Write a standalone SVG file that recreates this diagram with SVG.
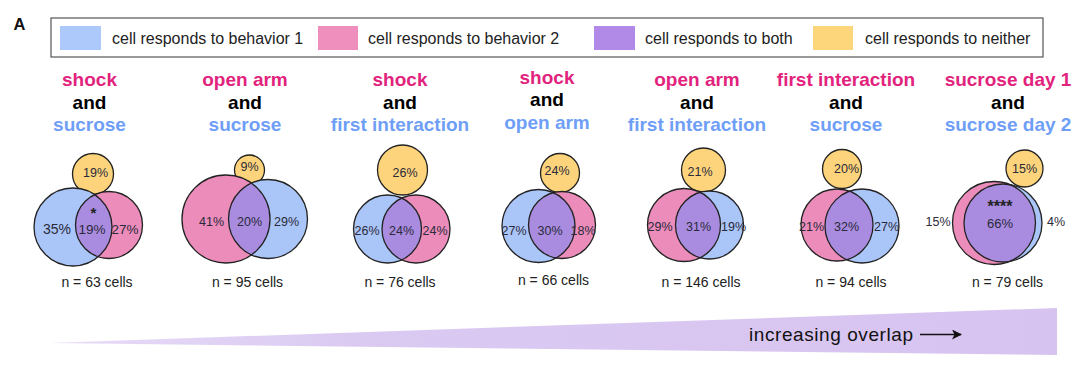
<svg xmlns="http://www.w3.org/2000/svg" width="1080" height="368" viewBox="0 0 1080 368">
<style>
text{font-family:"Liberation Sans",Arial,sans-serif;}
.tp{font-size:19px;font-weight:bold;fill:#e2237d;text-anchor:middle}
.ta{font-size:19px;font-weight:bold;fill:#000;text-anchor:middle}
.tb{font-size:19px;font-weight:bold;fill:#6f9ef7;text-anchor:middle}
.lg{font-size:16px;fill:#222}
.pc{font-size:12.5px;fill:#2a2a3a;text-anchor:middle}
.n{font-size:14px;fill:#222;text-anchor:middle}
.star{font-size:16px;font-weight:bold;fill:#222;text-anchor:middle}
.fb{fill:#aac5f8}
.fp{fill:#eb8cba}
.fo{fill:#a98ce0}
.fy{fill:#fdd47b;stroke:#222;stroke-width:1.3}
.ol{fill:none;stroke:#222;stroke-width:1.3}
</style>
<defs>
<clipPath id="c1"><circle cx="73" cy="227" r="39"/></clipPath>
<clipPath id="c2"><circle cx="226" cy="219" r="44"/></clipPath>
<clipPath id="c3"><circle cx="387.5" cy="229" r="34"/></clipPath>
<clipPath id="c4"><circle cx="538.5" cy="226" r="36.5"/></clipPath>
<clipPath id="c5"><circle cx="684" cy="225" r="36.5"/></clipPath>
<clipPath id="c6"><circle cx="837" cy="225" r="36"/></clipPath>
<clipPath id="c7"><circle cx="994" cy="223" r="41.5"/></clipPath>
<linearGradient id="wg" x1="0" y1="0" x2="1" y2="0">
<stop offset="0" stop-color="#e8dcf7"/>
<stop offset="0.3" stop-color="#dacaf2"/>
<stop offset="1" stop-color="#d7c3f0"/>
</linearGradient>
<marker id="ah" viewBox="0 0 10 10" refX="9" refY="5" markerWidth="10" markerHeight="10" markerUnits="userSpaceOnUse" orient="auto">
<path d="M0,0 L10,5 L0,10 L2.5,5 Z" fill="#111"/>
</marker>
</defs>
<rect width="1080" height="368" fill="#fff"/>
<text x="13.5" y="30" style="font-size:16.5px;font-weight:bold;fill:#111">A</text>
<g id="legend">
<rect x="51" y="18" width="992" height="39" fill="#fff" stroke="#555" stroke-width="1.2"/>
<rect x="60" y="26" width="41" height="24" fill="#adc8fb"/>
<text class="lg" x="112" y="44">cell responds to behavior 1</text>
<rect x="318" y="26" width="40" height="24" fill="#ee8fbd"/>
<text class="lg" x="368" y="44">cell responds to behavior 2</text>
<rect x="594" y="26" width="41" height="24" fill="#b08ae6"/>
<text class="lg" x="645" y="44">cell responds to both</text>
<rect x="813" y="26" width="40" height="24" fill="#fdd57a"/>
<text class="lg" x="865" y="44">cell responds to neither</text>
</g>
<g id="venn1">
<text class="tp" x="89.5" y="86">shock</text>
<text class="ta" x="89.5" y="108.5">and</text>
<text class="tb" x="89.5" y="131">sucrose</text>
<circle class="fy" cx="93" cy="174" r="20.5"/>
<text class="pc" x="95.5" y="177">19%</text>
<circle class="fb" cx="73" cy="227" r="39"/>
<circle class="fp" cx="109" cy="225" r="33.5"/>
<circle class="fo" cx="109" cy="225" r="33.5" clip-path="url(#c1)"/>
<circle class="ol" cx="73" cy="227" r="39"/>
<circle class="ol" cx="109" cy="225" r="33.5"/>
<text class="pc" x="57" y="233.5" style="font-size:14px">35%</text>
<text class="star" x="93.5" y="217.5" style="font-size:15px">*</text>
<text class="pc" x="92" y="233.5" style="font-size:13.5px">19%</text>
<text class="pc" x="125" y="233.5" style="font-size:13.5px">27%</text>
<text class="n" x="97" y="287">n = 63 cells</text>
</g>
<g id="venn2">
<text class="tp" x="245" y="86">open arm</text>
<text class="ta" x="245" y="108.5">and</text>
<text class="tb" x="245" y="131">sucrose</text>
<circle class="fy" cx="249.5" cy="170" r="15"/>
<text class="pc" x="249.5" y="171">9%</text>
<circle class="fp" cx="226" cy="219" r="44"/>
<circle class="fb" cx="268" cy="219" r="39.5"/>
<circle class="fo" cx="268" cy="219" r="39.5" clip-path="url(#c2)"/>
<circle class="ol" cx="226" cy="219" r="44"/>
<circle class="ol" cx="268" cy="219" r="39.5"/>
<text class="pc" x="211.5" y="225.5">41%</text>
<text class="pc" x="249.5" y="225.5">20%</text>
<text class="pc" x="286.5" y="225.5">29%</text>
<text class="n" x="247.5" y="287">n = 95 cells</text>
</g>
<g id="venn3">
<text class="tp" x="400" y="86">shock</text>
<text class="ta" x="400" y="108.5">and</text>
<text class="tb" x="400" y="131">first interaction</text>
<circle class="fy" cx="402.5" cy="170" r="25"/>
<text class="pc" x="405" y="177">26%</text>
<circle class="fb" cx="387.5" cy="229" r="34"/>
<circle class="fp" cx="416" cy="229" r="34"/>
<circle class="fo" cx="416" cy="229" r="34" clip-path="url(#c3)"/>
<circle class="ol" cx="387.5" cy="229" r="34"/>
<circle class="ol" cx="416" cy="229" r="34"/>
<text class="pc" x="367" y="234.5">26%</text>
<text class="pc" x="401.5" y="234.5">24%</text>
<text class="pc" x="435" y="234.5">24%</text>
<text class="n" x="400" y="287">n = 76 cells</text>
</g>
<g id="venn4">
<text class="tp" x="547" y="83.5">shock</text>
<text class="ta" x="547" y="106">and</text>
<text class="tb" x="547" y="128.5">open arm</text>
<circle class="fy" cx="560" cy="173" r="19.5"/>
<text class="pc" x="557" y="174.5">24%</text>
<circle class="fb" cx="538.5" cy="226" r="36.5"/>
<circle class="fp" cx="562" cy="225" r="33.5"/>
<circle class="fo" cx="562" cy="225" r="33.5" clip-path="url(#c4)"/>
<circle class="ol" cx="538.5" cy="226" r="36.5"/>
<circle class="ol" cx="562" cy="225" r="33.5"/>
<text class="pc" x="514" y="234.5">27%</text>
<text class="pc" x="550" y="234.5">30%</text>
<text class="pc" x="583" y="234.5">18%</text>
<text class="n" x="553.5" y="285">n = 66 cells</text>
</g>
<g id="venn5">
<text class="tp" x="697" y="86">open arm</text>
<text class="ta" x="697" y="108.5">and</text>
<text class="tb" x="697" y="131">first interaction</text>
<circle class="fy" cx="703.5" cy="170" r="22"/>
<text class="pc" x="700" y="176">21%</text>
<circle class="fp" cx="684" cy="225" r="36.5"/>
<circle class="fb" cx="709.5" cy="225" r="34"/>
<circle class="fo" cx="709.5" cy="225" r="34" clip-path="url(#c5)"/>
<circle class="ol" cx="684" cy="225" r="36.5"/>
<circle class="ol" cx="709.5" cy="225" r="34"/>
<text class="pc" x="660" y="231">29%</text>
<text class="pc" x="698.5" y="231">31%</text>
<text class="pc" x="733.5" y="231">19%</text>
<text class="n" x="701" y="287">n = 146 cells</text>
</g>
<g id="venn6">
<text class="tp" x="846" y="86">first interaction</text>
<text class="ta" x="846" y="108.5">and</text>
<text class="tb" x="846" y="131">sucrose</text>
<circle class="fy" cx="842" cy="169" r="19.5"/>
<text class="pc" x="846.5" y="173">20%</text>
<circle class="fp" cx="837" cy="225" r="36"/>
<circle class="fb" cx="862" cy="226" r="37"/>
<circle class="fo" cx="862" cy="226" r="37" clip-path="url(#c6)"/>
<circle class="ol" cx="837" cy="225" r="36"/>
<circle class="ol" cx="862" cy="226" r="37"/>
<text class="pc" x="811.5" y="231">21%</text>
<text class="pc" x="846.5" y="231">32%</text>
<text class="pc" x="886.5" y="231">27%</text>
<text class="n" x="851" y="287">n = 94 cells</text>
</g>
<g id="venn7">
<text class="tp" x="1008" y="86">sucrose day 1</text>
<text class="ta" x="1008" y="108.5">and</text>
<text class="tb" x="1008" y="131">sucrose day 2</text>
<circle class="fy" cx="1024.5" cy="168.5" r="18.5"/>
<text class="pc" x="1024.5" y="172.5">15%</text>
<circle class="fp" cx="994" cy="223" r="41.5"/>
<circle class="fb" cx="1003" cy="223" r="39"/>
<circle class="fo" cx="1003" cy="223" r="39" clip-path="url(#c7)"/>
<circle class="ol" cx="994" cy="223" r="41.5"/>
<circle class="ol" cx="1003" cy="223" r="39"/>
<text class="star" x="1000" y="212">****</text>
<text class="pc" x="1000" y="228" style="font-size:13px">66%</text>
<text class="pc" x="938" y="226">15%</text>
<text class="pc" x="1056" y="226">4%</text>
<text class="n" x="1007.5" y="287">n = 79 cells</text>
</g>
<g id="overlap-wedge">
<polygon points="50,343 1057,308 1057,355" fill="url(#wg)"/>
<text x="749" y="341" style="font-size:19px;fill:#111" textLength="164">increasing overlap</text>
</g>
<g id="connectors">
<line x1="920" y1="334.5" x2="961" y2="334.5" stroke="#111" stroke-width="1.6" marker-end="url(#ah)"/>
</g>
</svg>
